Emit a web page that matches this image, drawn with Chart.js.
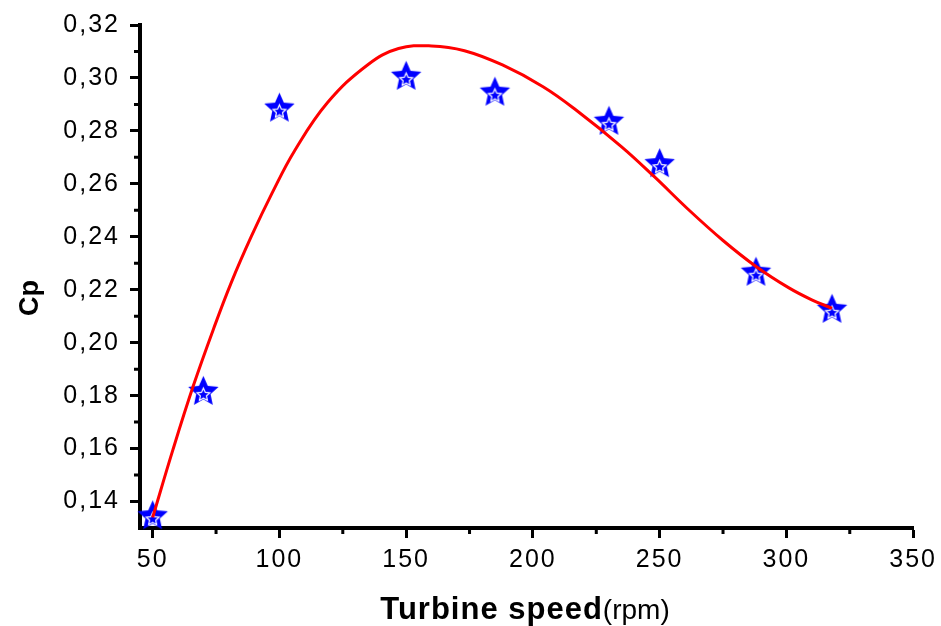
<!DOCTYPE html>
<html>
<head>
<meta charset="utf-8">
<title>Cp vs turbine speed</title>
<script src="https://cdn.jsdelivr.net/npm/chart.js@4.4.1/dist/chart.umd.min.js"></script>
<style>
    html, body { margin: 0; padding: 0; background: #fff; }
    #wrap { width: 941px; height: 626px; }
</style>
</head>
<body>
<div id="wrap"><canvas id="cpChart" width="941" height="626"></canvas></div>
<script>
// measured points
const speedRpm = [50, 70, 100, 150, 185, 230, 250, 288, 318];
const cpMeasured = [0.135, 0.182, 0.289, 0.301, 0.295, 0.284, 0.268, 0.227, 0.213];

// fitted curve, sampled along its length
const fitSpeed = [50, 58, 66, 74, 81, 89, 97, 106, 119, 135, 147, 160, 173, 188, 204, 217, 235, 248, 261, 275, 288, 301, 310, 318];
const fitCp = [0.134, 0.1596, 0.1836, 0.2052, 0.2227, 0.2403, 0.2563, 0.2725, 0.2907, 0.3051, 0.3111, 0.3121, 0.3103, 0.3049, 0.2967, 0.2879, 0.274, 0.2626, 0.2506, 0.2386, 0.2288, 0.2207, 0.2162, 0.2130];

// axis ticks
const xMajor = [50, 100, 150, 200, 250, 300, 350];
const xMinor = [75, 125, 175, 225, 275, 325];
const yMajor = [0.14, 0.16, 0.18, 0.20, 0.22, 0.24, 0.26, 0.28, 0.30, 0.32];
const yMinor = [0.15, 0.17, 0.19, 0.21, 0.23, 0.25, 0.27, 0.29, 0.31];

const FONT = "'Liberation Sans', Arial, sans-serif";

// five-pointed star marker: solid blue with a small hollow star inside
function makeStar(R) {
    const w = Math.ceil(2 * R * Math.sin(Math.PI * 2 / 5)) + 4;
    const h = Math.ceil(R * (1 + Math.cos(Math.PI / 5))) + 4;
    const c = document.createElement('canvas');
    c.width = w;
    c.height = h;
    const g = c.getContext('2d');
    const cx = w / 2;
    const cy = 2 + R;

    function starPath(x, y, ro, ri) {
        g.beginPath();
        for (let i = 0; i < 10; i++) {
            const r = i % 2 === 0 ? ro : ri;
            const a = -Math.PI / 2 + i * Math.PI / 5;
            const px = x + r * Math.cos(a);
            const py = y + r * Math.sin(a);
            if (i === 0) g.moveTo(px, py); else g.lineTo(px, py);
        }
        g.closePath();
    }

    starPath(cx, cy, R, R * 0.47);
    g.fillStyle = '#0000ff';
    g.fill();

    starPath(cx, cy + 3, R * 0.42, R * 0.2);
    g.strokeStyle = '#ffffff';
    g.lineWidth = 1.2;
    g.stroke();
    return c;
}

const starMarker = makeStar(16);

// minor ticks, axis titles and tick label spacing
const axisExtras = {
    id: 'axisExtras',
    beforeDraw(chart) {
        chart.ctx.letterSpacing = '2px';
    },
    afterDraw(chart) {
        const ctx = chart.ctx;
        const x = chart.scales.x;
        const y = chart.scales.y;
        const area = chart.chartArea;
        ctx.save();
        ctx.letterSpacing = '0px';
        ctx.strokeStyle = '#000';
        ctx.lineWidth = 3;
        ctx.beginPath();
        xMinor.forEach(v => {
            const px = x.getPixelForValue(v);
            ctx.moveTo(px, area.bottom);
            ctx.lineTo(px, area.bottom + 6);
        });
        yMinor.forEach(v => {
            const py = y.getPixelForValue(v);
            ctx.moveTo(area.left, py);
            ctx.lineTo(area.left - 6, py);
        });
        ctx.stroke();

        ctx.fillStyle = '#000';
        ctx.textBaseline = 'alphabetic';

        // y title
        ctx.save();
        ctx.translate(38, 298);
        ctx.rotate(-Math.PI / 2);
        ctx.textAlign = 'center';
        ctx.font = 'bold 27px ' + FONT;
        ctx.fillText('Cp', 0, 0);
        ctx.restore();

        // x title: bold name, plain unit
        ctx.textAlign = 'left';
        ctx.font = 'bold 31px ' + FONT;
        ctx.letterSpacing = '1px';
        const part1 = 'Turbine speed';
        const w1 = ctx.measureText(part1).width;
        ctx.font = '28px ' + FONT;
        ctx.letterSpacing = '0px';
        const part2 = '(rpm)';
        const w2 = ctx.measureText(part2).width;
        const x0 = 525 - (w1 + w2) / 2;
        ctx.font = 'bold 31px ' + FONT;
        ctx.letterSpacing = '1px';
        ctx.fillText(part1, x0, 619);
        ctx.font = '28px ' + FONT;
        ctx.letterSpacing = '0px';
        ctx.fillText(part2, x0 + w1, 619);
        ctx.restore();
    }
};

new Chart(document.getElementById('cpChart'), {
    type: 'scatter',
    data: {
        datasets: [{
            type: 'line',
            data: fitSpeed.map((s, i) => ({ x: s, y: fitCp[i] })),
            borderColor: '#ff0000',
            borderWidth: 3,
            pointRadius: 0,
            tension: 0.4,
            fill: false,
            clip: false,
            order: 0
        }, {
            data: speedRpm.map((s, i) => ({ x: s, y: cpMeasured[i] })),
            pointStyle: starMarker,
            pointRadius: 16,
            clip: false,
            order: 1
        }]
    },
    plugins: [axisExtras],
    options: {
        responsive: false,
        animation: false,
        layout: { padding: { left: 0, top: 25, right: 23, bottom: 0 } },
        plugins: {
            legend: { display: false },
            tooltip: { enabled: false }
        },
        scales: {
            x: {
                type: 'linear',
                min: 45,
                max: 350,
                afterBuildTicks: scale => { scale.ticks = xMajor.map(v => ({ value: v })); },
                afterFit: scale => { scale.height = 98; },
                border: { display: true, color: '#000', width: 4 },
                grid: { drawOnChartArea: false, drawTicks: true, tickLength: 10, tickWidth: 3, tickColor: '#000' },
                ticks: {
                    color: '#000',
                    padding: 7,
                    maxRotation: 0,
                    font: { family: FONT, size: 25 },
                    callback: v => String(v)
                }
            },
            y: {
                min: 0.13,
                max: 0.32,
                afterBuildTicks: scale => { scale.ticks = yMajor.map(v => ({ value: v })); },
                afterFit: scale => { scale.width = 140; },
                border: { display: true, color: '#000', width: 4 },
                grid: { drawOnChartArea: false, drawTicks: true, tickLength: 10, tickWidth: 3, tickColor: '#000' },
                ticks: {
                    color: '#000',
                    padding: 10,
                    font: { family: FONT, size: 25 },
                    callback: v => v.toFixed(2).replace('.', ',')
                }
            }
        }
    }
});
</script>
</body>
</html>
